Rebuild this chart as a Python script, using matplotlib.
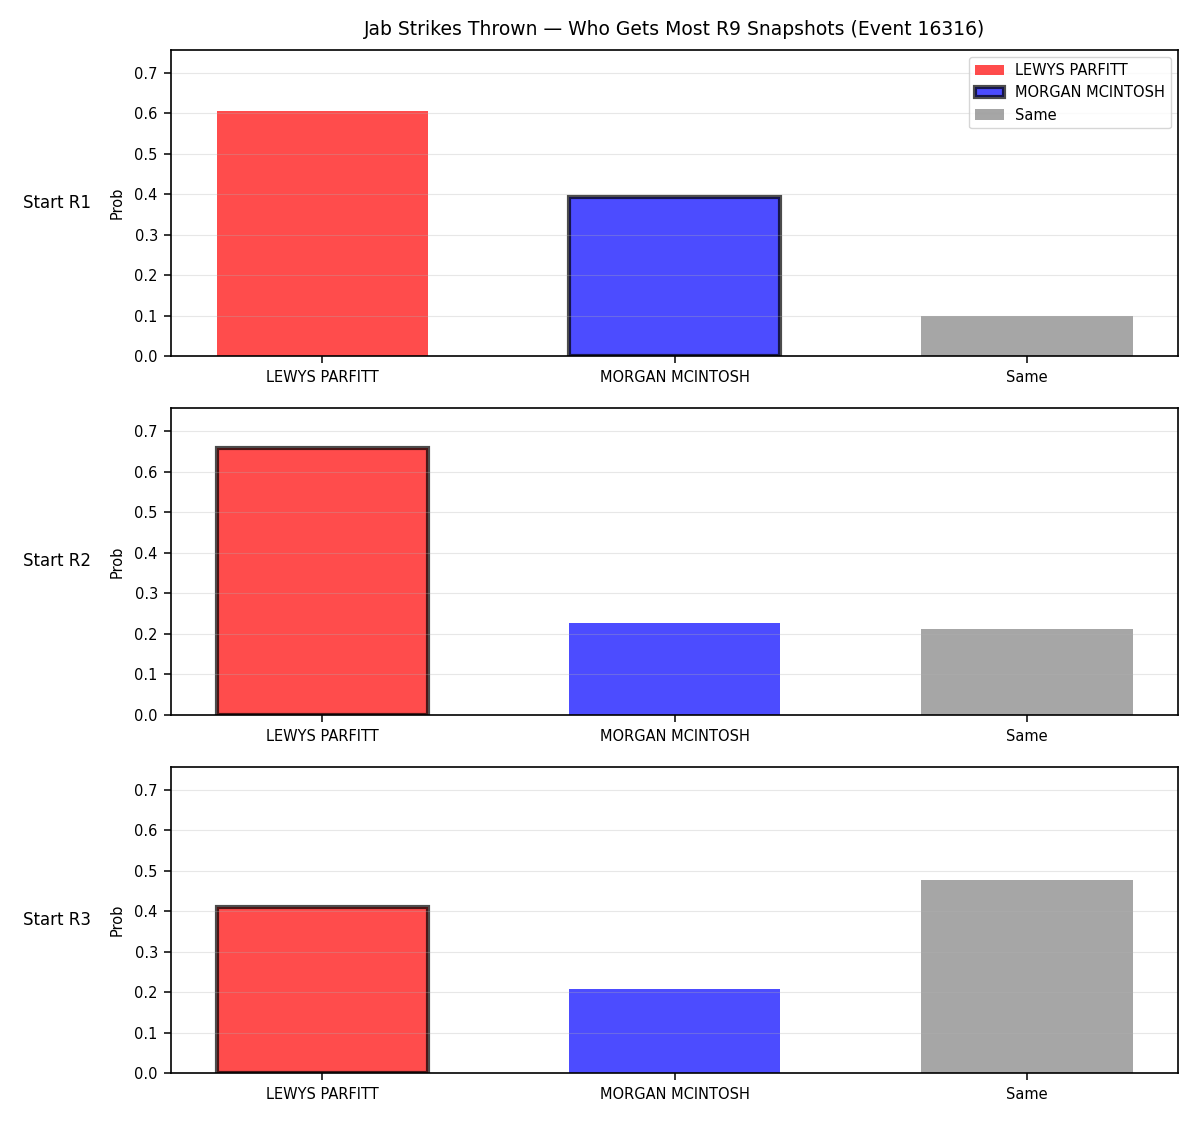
import numpy as np
from matplotlib import pyplot as plt

# data
outcomes = ["LEWYS PARFITT", "MORGAN MCINTOSH", "Same"]
rows = ["Start R1", "Start R2", "Start R3"]
r1 = [0.606, 0.394, 0.099]
r2 = [0.658, 0.227, 0.212]
r3 = [0.409, 0.207, 0.478]
probs = [r1, r2, r3]
highlight = [1, 0, 0]  # bar with the black edge in each row
colors = ["red", "blue", "gray"]

plt.rcParams['axes.linewidth'] = 1.2
plt.rcParams['xtick.major.size'] = 5
plt.rcParams['ytick.major.size'] = 5
plt.rcParams['xtick.major.width'] = 1.1
plt.rcParams['ytick.major.width'] = 1.1
plt.rcParams['xtick.major.pad'] = 5
plt.rcParams['ytick.major.pad'] = 4.5

ymax = max(max(p) for p in probs) * 1.15

fig, axes = plt.subplots(3, 1, figsize=(12, 11.25), dpi=100)
fig.subplots_adjust(left=0.1425, right=0.982, top=0.9556, bottom=0.0462, hspace=0.17)

x = np.arange(len(outcomes))
for i, ax in enumerate(axes):
    bars = ax.bar(x, probs[i], width=0.6, color=colors, alpha=0.7)
    for j, b in enumerate(bars):
        b.set_label(outcomes[j])
        if j == highlight[i]:
            b.set_edgecolor("black")
            b.set_linewidth(3)
    ax.set_xticks(x)
    ax.set_xticklabels(outcomes)
    ax.tick_params(labelsize=10.5)
    ax.set_xlim(-0.43, 2.43)
    ax.set_ylim(0, ymax)
    ax.set_ylabel("Prob", fontsize=10.5, labelpad=7)
    ax.grid(axis="y", alpha=0.3)
    ax.text(-0.079, 0.5, rows[i], transform=ax.transAxes, ha="right", va="center", fontsize=12)
    if i == 0:
        ax.legend(handles=list(bars), loc="upper right", fontsize=10.5)

axes[0].set_title("Jab Strikes Thrown \u2014 Who Gets Most R9 Snapshots (Event 16316)",
                  fontsize=13.5, pad=10.5)

plt.savefig("out.png")
